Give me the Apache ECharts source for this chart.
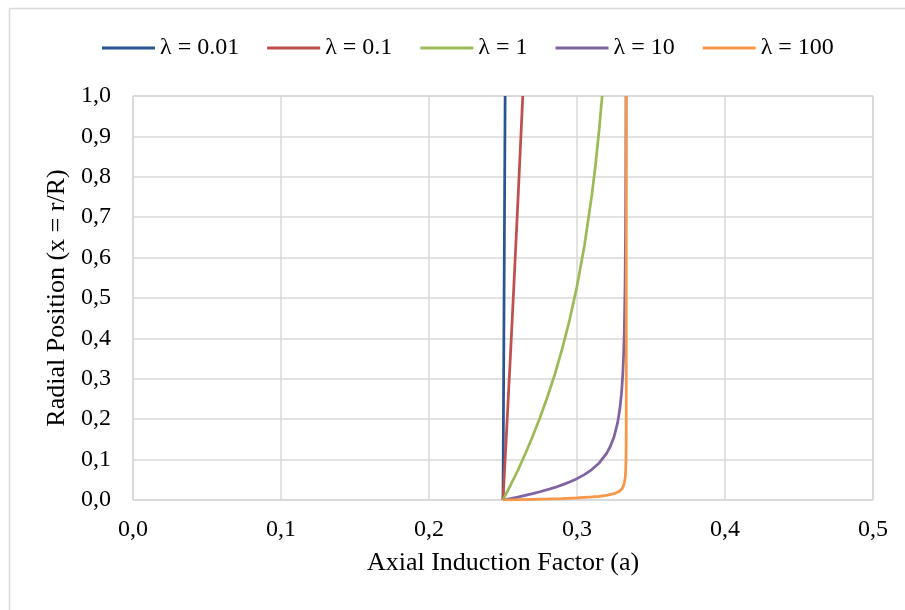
<!DOCTYPE html>
<html>
<head>
<meta charset="utf-8">
<script src="https://cdn.jsdelivr.net/npm/echarts@6/dist/echarts.min.js"></script>
<style>html,body{margin:0;padding:0;background:#fff;}#c{width:905px;height:610px;}</style>
</head>
<body>
<div id="c"></div>
<script>
// Axial induction factor (a) vs radial position (x = r/R)
const seriesNames = ['λ = 0.01', 'λ = 0.1', 'λ = 1', 'λ = 10', 'λ = 100'];
const colors = ['#2B5592', '#C0504D', '#9BBB59', '#8064A2', '#F79646'];

const lam001 = [[0.25, 0], [0.2505, 0.347], [0.251, 0.697], [0.25144, 1.0]];
const lam01 = [[0.25, 0], [0.2505, 0.035], [0.251, 0.070], [0.252, 0.140], [0.255, 0.356],
  [0.2575, 0.542], [0.26, 0.734], [0.2625, 0.932], [0.26335, 1.0]];
const lam1 = [[0.25, 0], [0.255, 0.036], [0.26, 0.073], [0.265, 0.114], [0.27, 0.157],
  [0.275, 0.204], [0.28, 0.255], [0.285, 0.311], [0.29, 0.374], [0.295, 0.446],
  [0.30, 0.529], [0.305, 0.629], [0.31, 0.754], [0.3125, 0.829], [0.315, 0.918], [0.317, 1.0]];
const lam10 = [[0.25, 0], [0.255, 0.0036], [0.26, 0.0073], [0.265, 0.0114], [0.27, 0.0157],
  [0.275, 0.0204], [0.28, 0.0255], [0.285, 0.0311], [0.29, 0.0374], [0.295, 0.0446],
  [0.30, 0.0529], [0.305, 0.0629], [0.31, 0.0754], [0.315, 0.0918], [0.32, 0.1155],
  [0.3225, 0.1324], [0.325, 0.1559], [0.3275, 0.1922], [0.329, 0.227], [0.33, 0.2619],
  [0.3305, 0.286], [0.331, 0.3167], [0.3315, 0.359], [0.332, 0.4239], [0.3325, 0.5392],
  [0.3328, 0.676], [0.3329, 0.751], [0.333, 0.8575], [0.33305, 0.930], [0.33309, 1.0]];
const lam100 = [[0.25, 0], [0.26, 0.0007], [0.27, 0.0016], [0.28, 0.0025], [0.29, 0.0037],
  [0.30, 0.0053], [0.31, 0.0075], [0.315, 0.0092], [0.32, 0.0115], [0.325, 0.0156],
  [0.328, 0.0202], [0.33, 0.0262], [0.331, 0.0317], [0.332, 0.0424], [0.3325, 0.0539],
  [0.3327, 0.062], [0.3329, 0.0751], [0.333, 0.0858], [0.3331, 0.1026], [0.33315, 0.116],
  [0.3332, 0.1359], [0.33325, 0.172], [0.3333, 0.272], [0.33331, 0.325], [0.33332, 0.430],
  [0.333325, 0.544], [0.33333, 0.861], [0.333331, 1.0]];
const allData = [lam001, lam01, lam1, lam10, lam100];

const xTicks = [0, 0.1, 0.2, 0.3, 0.4, 0.5];
const yTicks = [0, 0.1, 0.2, 0.3, 0.4, 0.5, 0.6, 0.7, 0.8, 0.9, 1.0];

const FONT = '"Liberation Serif", "Times New Roman", serif';
const fmt = v => v.toFixed(1).replace('.', ',');

const chart = echarts.init(document.getElementById('c'));
chart.setOption({
  backgroundColor: '#fff',
  animation: false,
  textStyle: { fontFamily: FONT },
  graphic: [
    { type: 'line', shape: { x1: 9.5, y1: 8.5, x2: 905, y2: 8.5 }, style: { stroke: '#D9D9D9', lineWidth: 1.5 } },
    { type: 'line', shape: { x1: 9.5, y1: 8.5, x2: 9.5, y2: 610 }, style: { stroke: '#D9D9D9', lineWidth: 1.5 } }
  ],
  legend: {
    top: 31,
    left: 97,
    itemWidth: 53,
    itemHeight: 3,
    itemGap: 28,
    textStyle: { fontFamily: FONT, fontSize: 24, color: '#000' },
    data: seriesNames.map((n, i) => ({ name: n, icon: 'rect', itemStyle: { color: colors[i] } }))
  },
  grid: { left: 133, right: 32, top: 96, bottom: 110, containLabel: false, show: true, borderColor: '#BFBFBF', borderWidth: 1 },
  xAxis: {
    type: 'value', min: xTicks[0], max: xTicks[xTicks.length - 1], interval: 0.1,
    name: 'Axial Induction Factor (a)', nameLocation: 'middle', nameGap: 50,
    nameTextStyle: { fontFamily: FONT, fontSize: 26, color: '#000' },
    axisLine: { show: false }, axisTick: { show: false },
    axisLabel: { fontFamily: FONT, fontSize: 24, color: '#000', margin: 18, formatter: fmt },
    splitLine: { show: true, lineStyle: { color: '#D9D9D9', width: 1.5 } }
  },
  yAxis: {
    type: 'value', min: yTicks[0], max: yTicks[yTicks.length - 1], interval: 0.1,
    name: 'Radial Position (x = r/R)', nameLocation: 'middle', nameGap: 59,
    nameTextStyle: { fontFamily: FONT, fontSize: 26, color: '#000' },
    axisLine: { show: false }, axisTick: { show: false },
    axisLabel: { fontFamily: FONT, fontSize: 24, color: '#000', margin: 22, formatter: fmt },
    splitLine: { show: true, lineStyle: { color: '#D9D9D9', width: 1.5 } }
  },
  series: allData.map((d, i) => ({
    name: seriesNames[i], type: 'line', data: d, symbol: 'none', smooth: false,
    lineStyle: { color: colors[i], width: 2.75 }, itemStyle: { color: colors[i] }
  }))
});
</script>
</body>
</html>
